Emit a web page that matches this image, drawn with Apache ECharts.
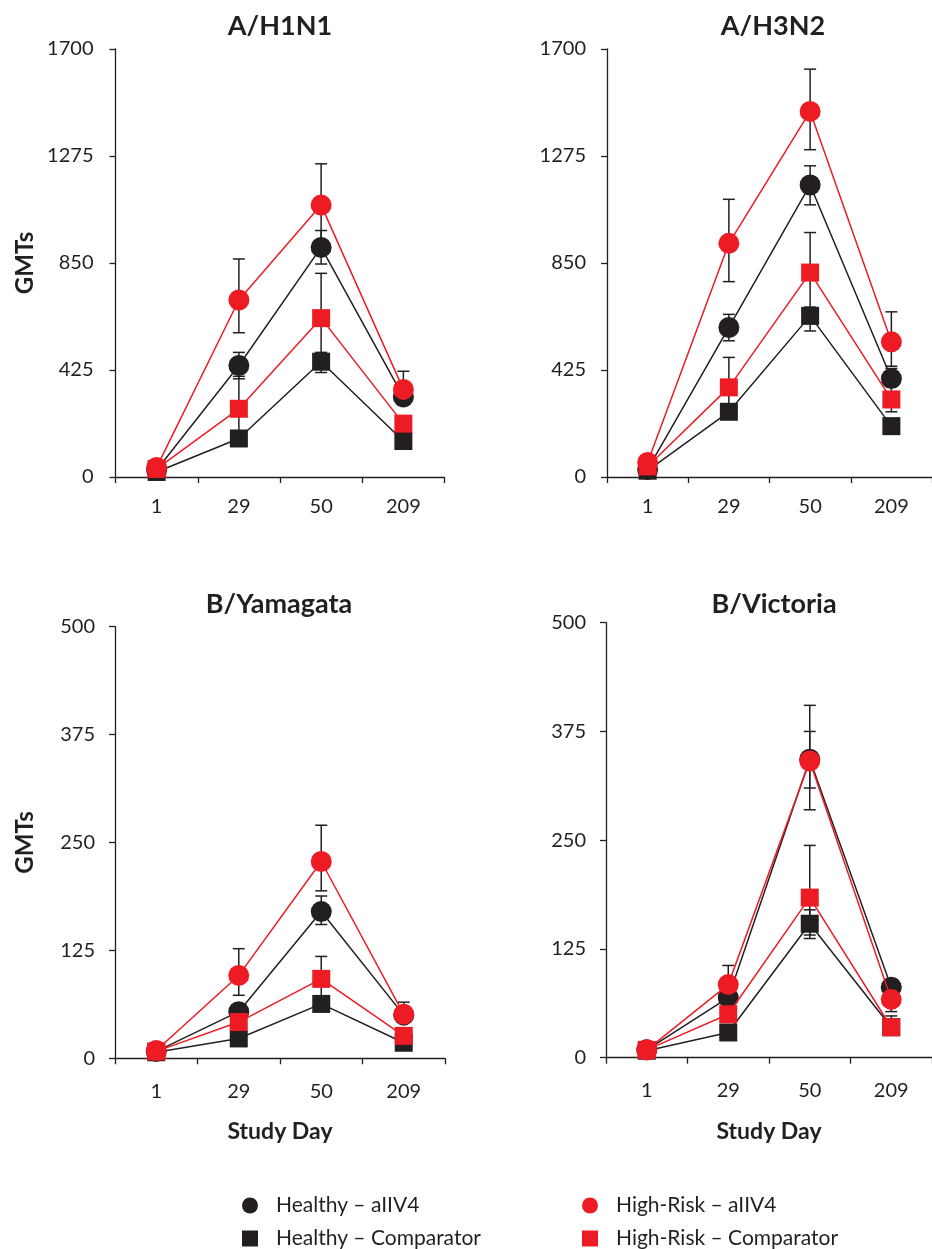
<!DOCTYPE html>
<html>
<head>
<meta charset="utf-8">
<script src="https://cdn.jsdelivr.net/npm/echarts@6/dist/echarts.min.js"></script>
<style>
html,body{margin:0;padding:0;background:#fff;}
#chart{width:932px;height:1249px;}
</style>
</head>
<body>
<div id="chart"></div>
<script>
// ---------- data ----------
const days = ['1', '29', '50', '209'];
const nameHA = 'Healthy – aIIV4';
const nameHC = 'Healthy – Comparator';
const nameRA = 'High-Risk – aIIV4';
const nameRC = 'High-Risk – Comparator';
const panelTitles = ['A/H1N1', 'A/H3N2', 'B/Yamagata', 'B/Victoria'];
const yMaxA = 1700, yStepA = 425;   // A strains: ticks 0, 425, 850, 1275, 1700
const yMaxB = 500,  yStepB = 125;   // B strains: ticks 0, 125, 250, 375, 500

// A/H1N1
const h1HA = [28, 443, 912, 318];   const h1HALo = [20, 390, 846, 285];  const h1HAHi = [36, 495, 979, 352];
const h1HC = [20, 153, 458, 143];   const h1HCLo = [15, 135, 415, 125];  const h1HCHi = [26, 172, 495, 163];
const h1RA = [38, 703, 1080, 348];  const h1RALo = [28, 573, 930, 290];  const h1RAHi = [50, 866, 1244, 420];
const h1RC = [32, 271, 631, 212];   const h1RCLo = [24, 180, 480, 175];  const h1RCHi = [42, 400, 809, 240];
// A/H3N2
const h3HA = [30, 594, 1160, 391];  const h3HALo = [22, 541, 1081, 360]; const h3HAHi = [40, 646, 1236, 431];
const h3HC = [25, 259, 640, 202];   const h3HCLo = [18, 235, 580, 185];  const h3HCHi = [33, 285, 675, 222];
const h3RA = [58, 928, 1452, 537];  const h3RALo = [45, 776, 1300, 440]; const h3RAHi = [75, 1103, 1620, 656];
const h3RC = [42, 356, 812, 308];   const h3RCLo = [32, 270, 660, 259];  const h3RCHi = [55, 475, 971, 360];
// B/Yamagata
const byHA = [8, 54, 170, 50];      const byHALo = [6, 47, 155, 44];     const byHAHi = [10, 62, 188, 56];
const byHC = [7, 23, 63, 18];       const byHCLo = [5, 19, 57, 15];      const byHCHi = [9, 28, 70, 22];
const byRA = [9, 96, 228, 51];      const byRALo = [7, 73, 194, 42];     const byRAHi = [11, 127, 270, 65];
const byRC = [8, 42, 92, 26];       const byRCLo = [6, 34, 72, 21];      const byRCHi = [10, 52, 118, 32];
// B/Victoria
const bvHA = [9, 69, 343, 81];      const bvHALo = [7, 60, 310, 72];     const bvHAHi = [11, 78, 375, 90];
const bvHC = [8, 29, 154, 35];      const bvHCLo = [6, 25, 137, 30];     const bvHCHi = [10, 34, 170, 40];
const bvRA = [9, 84, 341, 67];      const bvRALo = [7, 70, 285, 53];     const bvRAHi = [11, 106, 405, 80];
const bvRC = [9, 50, 184, 35];      const bvRCLo = [7, 42, 141, 30];     const bvRCHi = [11, 60, 244, 48];

// ---------- styling ----------
const BLACK = '#231f20';
const RED = '#ed1c24';
const FONT = 'Lato';

const panels = [
  {title: panelTitles[0], tx: 280, ty: 13, grid: {left: 115.5, top: 49, width: 329, height: 428}, max: yMaxA, step: yStepA, yName: 'GMTs', xName: '', lblM: 22, xM: 20,
   s: [[h1HC, h1HCLo, h1HCHi], [h1HA, h1HALo, h1HAHi], [h1RC, h1RCLo, h1RCHi], [h1RA, h1RALo, h1RAHi]]},
  {title: panelTitles[1], tx: 773, ty: 13, grid: {left: 607, top: 49, width: 330, height: 428}, max: yMaxA, step: yStepA, yName: '', xName: '', lblM: 21, xM: 20,
   s: [[h3HC, h3HCLo, h3HCHi], [h3HA, h3HALo, h3HAHi], [h3RC, h3RCLo, h3RCHi], [h3RA, h3RALo, h3RAHi]]},
  {title: panelTitles[2], tx: 279, ty: 591, grid: {left: 115, top: 626.7, width: 330, height: 431.6}, max: yMaxB, step: yStepB, yName: 'GMTs', xName: 'Study Day', lblM: 20, xM: 23,
   s: [[byHC, byHCLo, byHCHi], [byHA, byHALo, byHAHi], [byRC, byRCLo, byRCHi], [byRA, byRALo, byRAHi]]},
  {title: panelTitles[3], tx: 774, ty: 591, grid: {left: 606, top: 622.7, width: 330, height: 435}, max: yMaxB, step: yStepB, yName: '', xName: 'Study Day', lblM: 20, xM: 23,
   s: [[bvHC, bvHCLo, bvHCHi], [bvHA, bvHALo, bvHAHi], [bvRC, bvRCLo, bvRCHi], [bvRA, bvRALo, bvRAHi]]}
];
const order = [
  {name: nameHC, color: BLACK, symbol: 'rect', size: 18},
  {name: nameHA, color: BLACK, symbol: 'circle', size: 21},
  {name: nameRC, color: RED, symbol: 'rect', size: 18},
  {name: nameRA, color: RED, symbol: 'circle', size: 21}
];

function errRender(params, api) {
  const idx = api.value(0);
  const p1 = api.coord([idx, api.value(1)]);
  const p2 = api.coord([idx, api.value(2)]);
  const cx = p1[0], w = 6;
  const st = {stroke: BLACK, lineWidth: 1.5};
  return {type: 'group', children: [
    {type: 'line', shape: {x1: cx, y1: p1[1], x2: cx, y2: p2[1]}, style: st},
    {type: 'line', shape: {x1: cx - w, y1: p1[1], x2: cx + w, y2: p1[1]}, style: st},
    {type: 'line', shape: {x1: cx - w, y1: p2[1], x2: cx + w, y2: p2[1]}, style: st}
  ]};
}

function legendItem(name, icon, left, top) {
  return {left: left, top: top, padding: 0, orient: 'horizontal', itemWidth: 16, itemHeight: 16,
    data: [{name: name, icon: icon}], selectedMode: false,
    textStyle: {fontFamily: FONT, fontSize: 21, color: BLACK, padding: [0, 0, 0, 13]}};
}

const option = {
  animation: false,
  backgroundColor: '#fff',
  textStyle: {fontFamily: FONT},
  title: [], grid: [], xAxis: [], yAxis: [], series: [],
  legend: [
    legendItem(nameHA, 'circle', 242, 1195),
    legendItem(nameHC, 'rect', 242, 1228),
    legendItem(nameRA, 'circle', 582, 1195),
    legendItem(nameRC, 'rect', 582, 1228)
  ]
};

panels.forEach((p, i) => {
  option.title.push({text: p.title, left: p.tx, top: p.ty, textAlign: 'center', padding: 0,
    textStyle: {fontFamily: FONT, fontWeight: 'bold', fontSize: 27, color: BLACK}});
  option.grid.push(Object.assign({containLabel: false}, p.grid));
  option.xAxis.push({
    type: 'category', gridIndex: i, data: days, boundaryGap: true,
    axisLine: {lineStyle: {color: BLACK, width: 1.3}},
    axisTick: {show: true, length: 6, lineStyle: {color: BLACK, width: 1.3}},
    axisLabel: {color: BLACK, fontFamily: FONT, fontSize: 20, margin: p.xM},
    splitLine: {show: false},
    name: p.xName, nameLocation: 'middle', nameGap: 62,
    nameTextStyle: {fontFamily: FONT, fontWeight: 'bold', fontSize: 23, color: BLACK}
  });
  option.yAxis.push({
    type: 'value', gridIndex: i, min: 0, max: p.max, interval: p.step,
    axisLine: {show: true, lineStyle: {color: BLACK, width: 1.3}},
    axisTick: {show: true, length: 6, lineStyle: {color: BLACK, width: 1.3}},
    axisLabel: {color: BLACK, fontFamily: FONT, fontSize: 20, margin: p.lblM, formatter: v => String(v)},
    splitLine: {show: false},
    name: p.yName, nameLocation: 'middle', nameGap: 78, nameRotate: 90,
    nameTextStyle: {fontFamily: FONT, fontWeight: 'bold', fontSize: 24, color: BLACK}
  });
  p.s.forEach((trip, k) => {
    option.series.push({
      type: 'custom', name: 'err' + i + '_' + k, xAxisIndex: i, yAxisIndex: i, z: 1,
      renderItem: errRender, silent: true,
      encode: {x: 0, y: [1, 2]},
      data: days.map((d, j) => [j, trip[1][j], trip[2][j]])
    });
  });
  p.s.forEach((trip, k) => {
    const o = order[k];
    option.series.push({
      type: 'line', name: o.name, xAxisIndex: i, yAxisIndex: i, z: 2 + k,
      data: trip[0], symbol: o.symbol, symbolSize: o.size, showAllSymbol: true,
      color: o.color,
      itemStyle: {color: o.color, opacity: 1},
      lineStyle: {color: o.color, width: 1.5},
      emphasis: {disabled: true}, silent: true
    });
  });
});

const chart = echarts.init(document.getElementById('chart'), null, {renderer: 'canvas'});
chart.setOption(option);
</script>
</body>
</html>
